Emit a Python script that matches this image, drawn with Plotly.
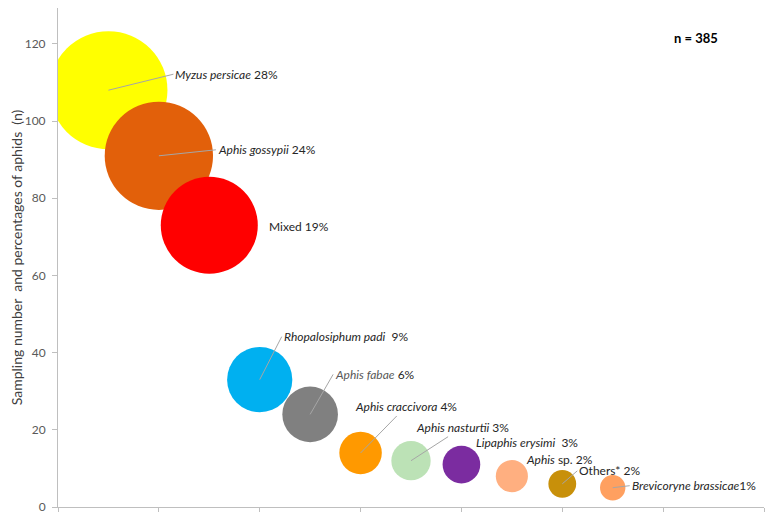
import plotly.graph_objects as go

# aphid species, sample counts and their share of the total
species = ["Myzus persicae", "Aphis gossypii", "Mixed", "Rhopalosiphum padi", "Aphis fabae",
           "Aphis craccivora", "Aphis nasturtii", "Lipaphis erysimi", "Aphis sp.", "Others*",
           "Brevicoryne brassicae"]
x_pos = [1, 2, 3, 4, 5, 6, 7, 8, 9, 10, 11]
counts = [108, 91, 73, 33, 24, 14, 12, 11, 8, 6, 5]
percent = [28, 24, 19, 9, 6, 4, 3, 3, 2, 2, 1]
colors = ["#FFFF00", "#E2600A", "#FF0000", "#00B0F0", "#808080", "#FF9900",
          "#BCE2B6", "#7B2CA0", "#FFAF80", "#C8900A", "#FFA060"]

# label text (html) for each bubble
label_text = [
    "<i>Myzus persicae</i> 28%",
    "<i>Aphis gossypii</i> 24%",
    "Mixed 19%",
    "<i>Rhopalosiphum padi</i>  9%",
    "<i><span style='color:#595959'>Aphis fabae</span></i> 6%",
    "<i>Aphis craccivora</i> 4%",
    "<i>Aphis nasturtii</i> 3%",
    "<i>Lipaphis erysimi</i>  3%",
    "<i>Aphis</i> sp. 2%",
    "Others* 2%",
    "<i>Brevicoryne brassicae</i>1%",
]
# label placement: pixel offset from bubble centre, anchor, leader line shown
label_pos = [
    (65, -16, "left", True),
    (57, -6, "left", True),
    (58, 1, "left", False),
    (22, -43, "left", True),
    (23, -40, "left", True),
    (45, -46, "center", True),
    (51, -33, "center", True),
    (13, -22, "left", False),
    (12, -17, "left", False),
    (15, -13, "left", True),
    (17, -2, "left", True),
]

FONT = "Lato"
max_diam = 118

fig = go.Figure()

fig.add_trace(go.Scatter(
    x=x_pos,
    y=counts,
    mode="markers",
    marker=dict(
        size=counts,
        sizemode="area",
        sizeref=2 * max(counts) / (max_diam ** 2),
        color=colors,
        opacity=1,
        line=dict(width=0),
    ),
    hovertext=species,
    showlegend=False,
    cliponaxis=True,
))

for i in range(len(species)):
    dx, dy, anchor, line = label_pos[i]
    if line:
        fig.add_annotation(
            x=x_pos[i], y=counts[i], text=label_text[i],
            showarrow=True, arrowhead=0, arrowwidth=1, arrowcolor="#A6A6A6",
            ax=dx, ay=dy, xanchor=anchor, yanchor="middle",
            font=dict(family=FONT, size=12, color="#262626"),
        )
    else:
        fig.add_annotation(
            x=x_pos[i], y=counts[i], text=label_text[i],
            showarrow=False, xshift=dx, yshift=-dy,
            xanchor=anchor, yanchor="middle",
            font=dict(family=FONT, size=12, color="#262626"),
        )

fig.add_annotation(
    x=0.903, y=0.94, xref="paper", yref="paper",
    text="<b>n = 385</b>", showarrow=False,
    xanchor="center", yanchor="middle",
    font=dict(family=FONT, size=13, color="#000000"),
)

# the page body adds an 8px margin, so the figure is 8px smaller than the window
fig.update_layout(
    width=766, height=515,
    margin=dict(l=50, r=10, t=0, b=16),
    plot_bgcolor="white",
    paper_bgcolor="white",
    font=dict(family=FONT, size=12, color="#595959"),
    xaxis=dict(
        range=[0, 14], tick0=0, dtick=2,
        showticklabels=False, showgrid=False, zeroline=False,
        showline=True, linecolor="#BFBFBF", linewidth=1,
        ticks="outside", ticklen=4, tickcolor="#BFBFBF",
    ),
    yaxis=dict(
        range=[0, 129.3], tick0=0, dtick=20,
        showgrid=False, zeroline=False,
        showline=True, linecolor="#BFBFBF", linewidth=1,
        ticks="outside", ticklen=5, tickcolor="#BFBFBF",
        ticklabelstandoff=4,
        tickfont=dict(family=FONT, size=12, color="#595959"),
        title=dict(
            text="Sampling number  and percentages of aphids  (n)",
            font=dict(family=FONT, size=14, color="#404040"),
            standoff=0,
        ),
    ),
)

fig.write_html("out.html")
